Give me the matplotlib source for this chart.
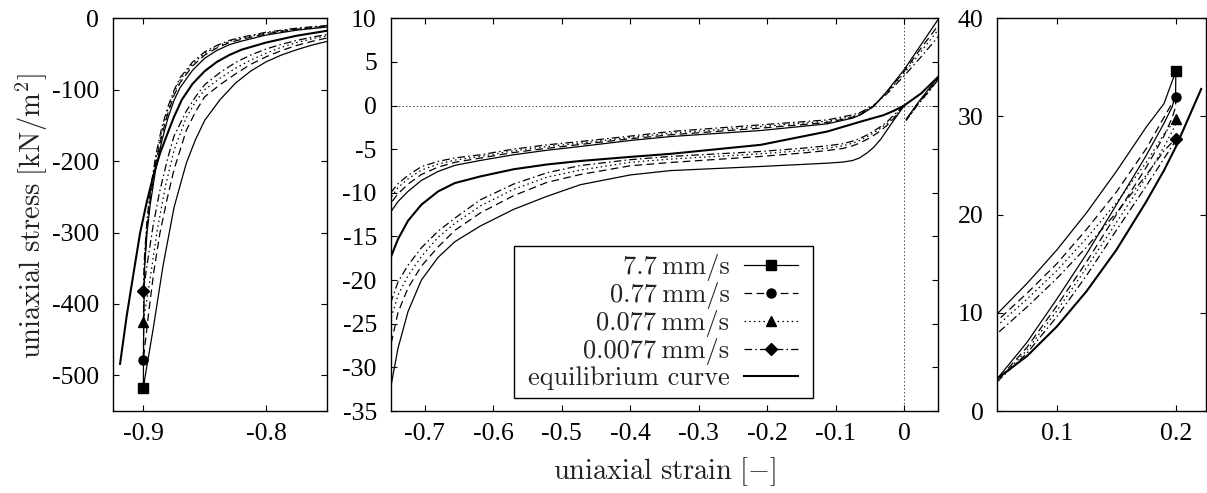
import matplotlib
matplotlib.use('Agg')
import matplotlib.pyplot as plt
from matplotlib.lines import Line2D
from matplotlib.patches import Rectangle

plt.rcParams['mathtext.fontset'] = 'cm'
plt.rcParams['lines.scale_dashes'] = False

# ---------------- data (strain [-], stress [kN/m^2]) ----------------
rate_labels = ['7.7\u2009mm/s', '0.77\u2009mm/s', '0.077\u2009mm/s', '0.0077\u2009mm/s']
eq_label = 'equilibrium curve'

# compression unloading + tension loading branch (from -0.9 to 0.2)
cu_strain = [-0.9, -0.8997, -0.899, -0.897, -0.8945, -0.89, -0.885, -0.88, -0.875, -0.87,
             -0.86, -0.85, -0.84, -0.83, -0.82, -0.8, -0.775, -0.75, -0.7393, -0.7247,
             -0.7052, -0.6808, -0.6563, -0.619, -0.5706, -0.5217, -0.473, -0.4, -0.341, -0.2095,
             -0.112, -0.0753, -0.063, -0.0443, -0.0244, 0.0, 0.025, 0.05, 0.075, 0.1,
             0.125, 0.15, 0.175, 0.19, 0.2]
cu_stress_7_7 = [-518, -420, -350, -300, -262, -212, -172, -140, -115, -97,
                 -73, -56, -45, -37, -32, -23.5, -16.6, -12.2, -11.0, -9.84,
                 -8.58, -7.55, -6.85, -6.29, -5.64, -5.12, -4.69, -4.0, -3.55, -2.86,
                 -2.09, -1.44, -1.05, -0.1, 1.7, 4.1, 7.0, 9.9, 13.0, 16.4,
                 20.2, 24.4, 28.9, 31.3, 34.6]
cu_stress_0_77 = [-478, -410, -345, -293, -255, -204, -164, -133, -108, -90,
                  -67, -51.5, -41.5, -34, -29.5, -21.7, -15.3, -11.2, -10.1, -9.0,
                  -7.9, -7.05, -6.5, -6.02, -5.38, -4.9, -4.46, -3.8, -3.35, -2.59,
                  -1.94, -1.33, -0.95, -0.05, 1.6, 3.9, 6.6, 9.2, 12.0, 15.0,
                  18.5, 22.3, 26.7, 29.9, 32.0]
cu_stress_0_077 = [-425, -390, -338, -287, -249, -198, -158, -128, -104, -86,
                   -64, -49, -39.5, -32.3, -27.8, -20.5, -14.5, -10.6, -9.4, -8.4,
                   -7.4, -6.7, -6.25, -5.83, -5.18, -4.7, -4.3, -3.65, -3.16, -2.4,
                   -1.79, -1.26, -0.85, 0.0, 1.5, 3.7, 6.2, 8.7, 11.4, 14.3,
                   17.6, 21.2, 25.3, 28.2, 29.7]
cu_stress_0_0077 = [-382, -365, -330, -282, -244, -193, -153, -124, -101, -83,
                    -61.5, -47, -38, -31, -26.5, -19.5, -13.8, -10.0, -8.95, -8.0,
                    -7.0, -6.4, -6.0, -5.64, -4.99, -4.5, -4.12, -3.5, -2.97, -2.21,
                    -1.64, -1.06, -0.75, 0.05, 1.4, 3.4, 5.6, 7.9, 10.6, 13.5,
                    16.7, 20.2, 24.0, 26.5, 27.75]

# tension unloading branch (from 0.2 back towards 0)
tu_strain = [0.2, 0.1998, 0.197, 0.19, 0.175, 0.15, 0.125, 0.1, 0.075, 0.05, 0.035, 0.02, 0.003]
tu_stress_7_7 = [34.6, 32.3, 31.0, 29.3, 26.0, 21.0, 16.0, 11.4, 7.0, 3.3, 1.8, 0.3, -1.6]
tu_stress_0_77 = [32.0, 31.0, 29.9, 28.0, 24.8, 20.0, 15.2, 10.7, 6.5, 3.1, 1.6, 0.2, -1.6]
tu_stress_0_077 = [29.7, 29.2, 28.5, 26.9, 23.8, 19.2, 14.6, 10.2, 6.2, 3.0, 1.5, 0.1, -1.7]
tu_stress_0_0077 = [27.75, 27.5, 27.0, 25.7, 22.9, 18.4, 13.8, 9.6, 5.9, 3.0, 1.5, 0.1, -1.7]

# compression loading branch (from 0 to -0.9)
cl_strain = [0.0, -0.007, -0.0146, -0.024, -0.034, -0.044, -0.0536, -0.065, -0.0753, -0.09,
             -0.112, -0.15, -0.2095, -0.341, -0.4, -0.473, -0.5217, -0.5706, -0.619, -0.6563,
             -0.6808, -0.7052, -0.7247, -0.7393, -0.75, -0.7625, -0.775, -0.7875, -0.8, -0.8125,
             -0.825, -0.8375, -0.85, -0.8575, -0.865, -0.875]
cl_stress_7_7 = [0, -0.8, -1.64, -2.7, -3.85, -4.75, -5.4, -6.0, -6.3, -6.48,
                 -6.6, -6.75, -6.98, -7.45, -7.95, -9.07, -10.4, -11.9, -13.8, -15.6,
                 -17.4, -20.0, -23.6, -27.8, -32.3, -37.5, -44, -51.5, -61, -74,
                 -91, -114, -143, -170, -203, -265]
cl_stress_0_77 = [0, -0.7, -1.44, -2.2, -2.86, -3.4, -3.85, -4.3, -4.62, -4.92,
                  -5.15, -5.45, -5.83, -6.52, -6.9, -7.9, -8.8, -10.33, -12.3, -14.3,
                  -16.2, -18.4, -20.9, -23.7, -27.5, -32.3, -38, -45.2, -54, -64.5,
                  -78, -93, -110, -131, -157, -212]
cl_stress_0_077 = [0, -0.6, -1.26, -2.0, -2.59, -3.1, -3.55, -4.0, -4.32, -4.62,
                   -4.88, -5.17, -5.53, -6.13, -6.5, -7.39, -8.2, -9.6, -11.5, -13.5,
                   -15.1, -17.3, -19.5, -21.7, -24.5, -28.8, -34, -40.6, -49, -58.5,
                   -70, -84, -100, -117, -139, -185]
cl_stress_0_0077 = [0, -0.5, -1.06, -1.8, -2.4, -2.9, -3.35, -3.78, -4.08, -4.38,
                    -4.61, -4.9, -5.26, -5.83, -6.2, -6.87, -7.7, -9.0, -10.8, -12.9,
                    -14.4, -16.3, -18.3, -20.2, -22.6, -26.5, -31, -36.5, -43, -51.5,
                    -62, -76, -93, -110, -130, -165]
cl_tail_strain_7_7 = [-0.884, -0.892, -0.8986, -0.9]
cl_tail_stress_7_7 = [-347, -435, -502, -518]
cl_tail_strain_0_77 = [-0.8805, -0.8864, -0.8915, -0.8955, -0.9]
cl_tail_stress_0_77 = [-252, -300, -355, -410, -478]
cl_tail_strain_0_077 = [-0.882, -0.889, -0.8945, -0.9]
cl_tail_stress_0_077 = [-235, -300, -365, -425]
cl_tail_strain_0_0077 = [-0.88, -0.887, -0.892, -0.8965, -0.9]
cl_tail_stress_0_0077 = [-195, -245, -290, -340, -382]

# equilibrium curve
eq_strain = [-0.919, -0.9136, -0.908, -0.9027, -0.8972, -0.8918, -0.8864, -0.88, -0.875, -0.8686,
             -0.86, -0.85, -0.84, -0.83, -0.82, -0.8, -0.775, -0.75, -0.7393, -0.7247,
             -0.7052, -0.6808, -0.6563, -0.619, -0.5706, -0.5217, -0.473, -0.4, -0.341, -0.2095,
             -0.112, -0.063, -0.03, -0.015, 0.0, 0.025, 0.05, 0.075, 0.1, 0.125,
             0.15, 0.175, 0.19, 0.2, 0.2213]
eq_stress = [-484, -417, -357, -301, -257, -220, -189, -160, -138, -114,
             -92, -74, -61, -51.5, -44, -34, -24.4, -17.4, -15.3, -13.2,
             -11.36, -9.84, -8.88, -8.12, -7.3, -6.75, -6.35, -5.88, -5.53, -4.5,
             -2.97, -1.83, -1.1, -0.6, 0.0, 1.4, 3.3, 5.6, 8.6, 12.2,
             16.4, 21.3, 24.5, 26.9, 32.8]

# axes ticks
left_xticks = [-0.9, -0.8]
left_xticklabels = ['-0.9', '-0.8']
left_yticks = [0, -100, -200, -300, -400, -500]
left_yticklabels = ['0', '-100', '-200', '-300', '-400', '-500']
mid_xticks = [-0.7, -0.6, -0.5, -0.4, -0.3, -0.2, -0.1, 0.0]
mid_xticklabels = ['-0.7', '-0.6', '-0.5', '-0.4', '-0.3', '-0.2', '-0.1', '0']
mid_yticks = [10, 5, 0, -5, -10, -15, -20, -25, -30, -35]
mid_yticklabels = ['10', '5', '0', '-5', '-10', '-15', '-20', '-25', '-30', '-35']
right_xticks = [0.1, 0.2]
right_xticklabels = ['0.1', '0.2']
right_yticks = [0, 10, 20, 30, 40]
right_yticklabels = ['0', '10', '20', '30', '40']

# ---------------- styles ----------------
LW = 0.9
styles = [
    dict(linestyle='-'),
    dict(linestyle=(0, (5.5, 3.2))),
    dict(linestyle=(0, (1.1, 2.3))),
    dict(linestyle=(0, (5.5, 2.3, 1.1, 2.3))),
]
markers = [('s', 7.0), ('o', 6.5), ('^', 7.0), ('D', 5.8)]

cu_all = [cu_stress_7_7, cu_stress_0_77, cu_stress_0_077, cu_stress_0_0077]
tu_all = [tu_stress_7_7, tu_stress_0_77, tu_stress_0_077, tu_stress_0_0077]
cl_all = [cl_stress_7_7, cl_stress_0_77, cl_stress_0_077, cl_stress_0_0077]
tail_s = [cl_tail_strain_7_7, cl_tail_strain_0_77, cl_tail_strain_0_077, cl_tail_strain_0_0077]
tail_v = [cl_tail_stress_7_7, cl_tail_stress_0_77, cl_tail_stress_0_077, cl_tail_stress_0_0077]

W, H = 1207, 493
fig = plt.figure(figsize=(W / 100, H / 100), dpi=100)
fig.patch.set_facecolor('white')


def rect(x0, x1, y0=18.3, y1=411.0):
    return [x0 / W, 1 - y1 / H, (x1 - x0) / W, (y1 - y0) / H]


axL = fig.add_axes(rect(112.7, 327.3))
axM = fig.add_axes(rect(390.7, 938.3))
axR = fig.add_axes(rect(997.3, 1205.6))

for ax in (axL, axM, axR):
    for i in range(4):
        st = styles[i]
        ax.plot(cu_strain, cu_all[i], color='k', lw=LW, **st)
        ax.plot(tu_strain, tu_all[i], color='k', lw=LW, **st)
        ax.plot(cl_strain + tail_s[i], cl_all[i] + tail_v[i], color='k', lw=LW, **st)
        m, ms = markers[i]
        ax.plot([cu_strain[0], cu_strain[-1]], [cu_all[i][0], cu_all[i][-1]],
                linestyle='none', marker=m, ms=ms, color='k', zorder=5)
    ax.plot(eq_strain, eq_stress, color='k', lw=1.5)

axM.axhline(0, color='#444444', lw=0.7, ls=(0, (1, 1.6)), zorder=0)
axM.axvline(0, color='#444444', lw=0.7, ls=(0, (1, 1.6)), zorder=0)

axL.set_xlim(-0.925, -0.75)
axL.set_ylim(-550, 0)
axM.set_xlim(-0.75, 0.05)
axM.set_ylim(-35, 10)
axR.set_xlim(0.05, 0.225)
axR.set_ylim(0, 40)

tick_font = dict(family='Liberation Serif', size=18.5)
for ax, xt, xl, yt, yl in ((axL, left_xticks, left_xticklabels, left_yticks, left_yticklabels),
                           (axM, mid_xticks, mid_xticklabels, mid_yticks, mid_yticklabels),
                           (axR, right_xticks, right_xticklabels, right_yticks, right_yticklabels)):
    ax.set_xticks(xt)
    ax.set_xticklabels(xl, fontdict=tick_font)
    ax.set_yticks(yt)
    ax.set_yticklabels(yl, fontdict=tick_font)
    ax.tick_params(direction='in', top=True, right=True, length=4, width=0.8)
    ax.tick_params(axis='x', pad=9)
    ax.tick_params(axis='y', pad=10)
    for sp in ax.spines.values():
        sp.set_linewidth(1.0)
        sp.set_color('black')

# legend box (frame drawn as a patch, entries placed inside)
box = Rectangle((0.2252, 0.0323), 0.5465, 0.3879, transform=axM.transAxes,
                facecolor='white', edgecolor='black', lw=1.0, zorder=4)
axM.add_patch(box)
handles = []
for i in range(4):
    m, ms = markers[i]
    handles.append(Line2D([], [], color='k', lw=LW, marker=m, ms=ms, **styles[i]))
handles.append(Line2D([], [], color='k', lw=1.5))
leg = axM.legend(handles, rate_labels + [eq_label], loc='upper right',
                 bbox_to_anchor=(0.7438, 0.399), borderaxespad=0, frameon=False,
                 markerfirst=False, handlelength=2.05, handletextpad=0.55,
                 labelspacing=0.035, borderpad=0, numpoints=1,
                 prop=dict(family=['cmr10', 'DejaVu Serif'], size=19))
leg.set_zorder(6)
for t in leg.get_texts():
    t.set_color('#222222')

fig.text(664.5 / W, 1 - 472 / H, r'$\mathrm{uniaxial\ strain}\ [-]$',
         ha='center', va='center', fontsize=20.5, color='#222222')
fig.text(31.5 / W, 1 - 216 / H, r'$\mathrm{uniaxial\ stress}\ [\mathrm{kN/m^2}]$',
         ha='center', va='center', rotation=90, fontsize=20.5, color='#222222')

fig.savefig('out.png', dpi=100, facecolor='white')
